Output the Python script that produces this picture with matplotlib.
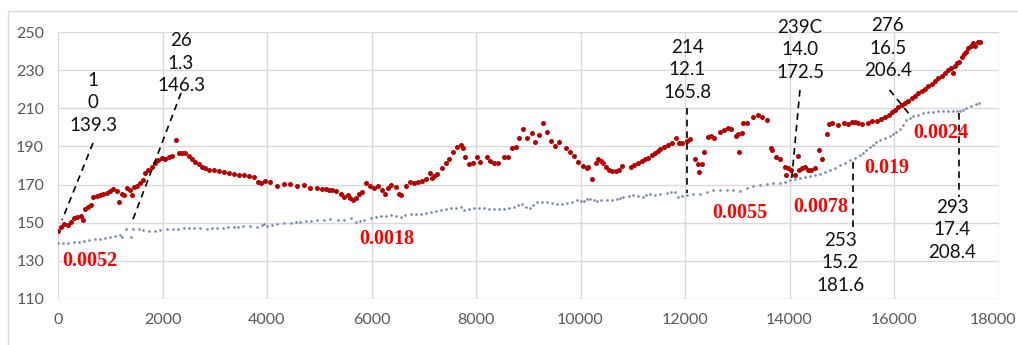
import matplotlib
matplotlib.use("Agg")
import matplotlib.pyplot as plt
import matplotlib.transforms as mtransforms
from matplotlib.patches import Rectangle

# red series (scattered points)
red_x = [0, 51, 115, 185, 249, 307, 371, 435, 473, 518, 581, 626, 677, 741, 805, 869, 933, 997,
         1061, 1125, 1176, 1220, 1265, 1316, 1380, 1412, 1457, 1508, 1572, 1623, 1668, 1732, 1796,
         1860, 1923, 1987, 2051, 2115, 2179, 2256, 2307, 2371, 2435, 2499, 2563, 2627, 2691, 2754,
         2818, 2882, 2978, 3074, 3169, 3265, 3361, 3457, 3553, 3649, 3744, 3821, 3885, 3968, 4064,
         4192, 4319, 4447, 4575, 4703, 4831, 4958, 5060, 5123, 5187, 5250, 5314, 5416, 5480, 5557,
         5588, 5652, 5697, 5761, 5812, 5888, 5971, 6054, 6118, 6194, 6258, 6309, 6373, 6463, 6526,
         6565, 6654, 6737, 6820, 6897, 6960, 7037, 7120, 7152, 7196, 7247, 7343, 7419, 7490, 7566,
         7636, 7707, 7758, 7789, 7866, 7949, 8013, 8083, 8204, 8274, 8351, 8415, 8530, 8619, 8683,
         8766, 8830, 8906, 8983, 9066, 9129, 9206, 9282, 9359, 9429, 9512, 9589, 9729, 9806, 9882,
         9959, 10041, 10118, 10150, 10226, 10290, 10341, 10392, 10437, 10488, 10545, 10609, 10673,
         10737, 10801, 10966, 11030, 11107, 11171, 11235, 11298, 11362, 11426, 11490, 11522, 11604,
         11681, 11745, 11828, 11885, 11949, 12032, 12096, 12191, 12255, 12274, 12319, 12364, 12434,
         12498, 12561, 12670, 12746, 12817, 12880, 12970, 13021, 13040, 13085, 13117, 13187, 13295,
         13403, 13480, 13563, 13640, 13659, 13742, 13818, 13914, 13927, 13978, 14029, 14105, 14156,
         14182, 14233, 14297, 14348, 14412, 14488, 14571, 14629, 14712, 14757, 14820, 14935, 15050,
         15114, 15203, 15254, 15318, 15395, 15497, 15586, 15669, 15752, 15829, 15906, 15955, 16019,
         16083, 16147, 16211, 16274, 16338, 16402, 16466, 16530, 16594, 16657, 16721, 16785, 16849,
         16913, 16977, 17040, 17085, 17136, 17168, 17212, 17251, 17295, 17340, 17378, 17423, 17468,
         17519, 17551, 17602, 17647]
red_y = [145.8, 147.9, 149.3, 148.6, 150.5, 152.3, 153.1, 153.5, 151.4, 157.0, 158.4, 159.2, 163.6,
         164.0, 164.5, 165.0, 165.7, 166.8, 167.6, 166.8, 161.0, 165.3, 164.5, 168.0, 167.2, 164.5,
         168.9, 169.2, 170.6, 172.4, 176.2, 177.6, 179.3, 181.1, 182.8, 183.7, 183.2, 184.2, 184.9,
         193.3, 186.7, 186.7, 186.7, 184.9, 183.2, 181.6, 180.6, 179.3, 178.5, 177.9, 177.6, 177.1,
         176.4, 175.9, 175.4, 175.0, 175.0, 174.7, 174.1, 171.5, 170.7, 171.9, 171.5, 169.2, 170.3,
         170.3, 169.4, 169.7, 168.3, 168.0, 167.9, 167.9, 167.4, 167.0, 166.7, 164.9, 163.5, 164.4,
         163.0, 162.1, 163.2, 165.3, 166.2, 170.9, 169.1, 168.4, 169.1, 167.0, 165.3, 168.4, 169.7,
         168.8, 164.9, 164.4, 169.3, 171.4, 171.0, 171.4, 172.1, 172.8, 175.9, 173.3, 174.5, 175.6,
         178.6, 181.2, 183.6, 187.0, 189.9, 191.0, 189.4, 184.2, 180.8, 181.2, 184.7, 181.9, 184.3,
         182.4, 181.5, 181.5, 184.2, 184.2, 189.1, 189.9, 194.5, 199.2, 194.3, 197.3, 192.2, 196.0,
         202.4, 197.5, 192.8, 190.3, 192.4, 189.1, 186.9, 184.9, 181.6, 179.9, 178.5, 179.3, 173.0,
         181.1, 183.4, 182.5, 181.1, 179.3, 177.9, 177.2, 176.9, 177.6, 180.0, 179.3, 180.2, 181.4,
         182.5, 183.2, 184.1, 185.3, 186.3, 187.7, 188.4, 189.8, 191.0, 191.9, 194.2, 191.6, 191.9,
         193.0, 194.0, 183.4, 180.7, 176.4, 180.7, 187.2, 195.1, 195.4, 194.5, 197.7, 198.6, 199.8,
         198.9, 195.4, 196.5, 187.2, 197.2, 202.1, 202.1, 205.2, 206.4, 205.6, 203.8, 189.0, 188.1,
         184.2, 183.5, 179.0, 175.0, 178.5, 177.9, 175.0, 184.9, 177.9, 178.5, 179.0, 177.6, 177.9,
         178.8, 188.1, 183.4, 196.5, 201.5, 202.1, 201.2, 202.4, 201.7, 202.9, 202.9, 202.4, 201.5,
         202.4, 203.1, 203.5, 204.2, 205.6, 206.6, 208.3, 209.1, 210.5, 211.7, 213.0, 214.0, 215.2,
         216.5, 217.9, 219.1, 220.3, 221.7, 222.8, 224.5, 225.7, 227.0, 228.4, 230.1, 231.3, 228.7,
         232.2, 233.6, 234.5, 237.1, 238.3, 239.7, 241.5, 242.9, 244.1, 242.7, 244.7, 244.7]

# blue series (small dots)
blue_x = [0, 100, 200, 300, 400, 500, 600, 700, 800, 900, 1000, 1100, 1189, 1230, 1300, 1400, 1444,
          1550, 1636, 1750, 1850, 1950, 2083, 2200, 2300, 2403, 2500, 2600, 2722, 2850, 2950, 3042,
          3150, 3250, 3361, 3450, 3550, 3681, 3809, 3900, 3936, 4000, 4100, 4200, 4319, 4450, 4550,
          4639, 4750, 4850, 4958, 5100, 5214, 5350, 5478, 5605, 5700, 5780, 5860, 5987, 6080, 6178,
          6280, 6369, 6470, 6560, 6650, 6751, 6850, 6942, 7040, 7132, 7230, 7323, 7420, 7514, 7610,
          7705, 7768, 7860, 7959, 8050, 8150, 8250, 8341, 8440, 8531, 8630, 8722, 8800, 8881, 8960,
          9040, 9100, 9167, 9260, 9358, 9450, 9549, 9640, 9740, 9840, 9931, 10000, 10058, 10120,
          10185, 10250, 10312, 10400, 10503, 10600, 10693, 10760, 10821, 10920, 11011, 11100, 11202,
          11260, 11329, 11424, 11520, 11647, 11740, 11809, 11873, 11950, 12032, 12150, 12287, 12420,
          12542, 12670, 12796, 12920, 13051, 13180, 13306, 13430, 13561, 13690, 13815, 13910, 14006,
          14100, 14197, 14290, 14388, 14480, 14580, 14680, 14771, 14870, 14962, 15060, 15153, 15250,
          15344, 15410, 15471, 15540, 15599, 15660, 15726, 15820, 15917, 15980, 16045, 16110, 16172,
          16236, 16300, 16363, 16460, 16554, 16650, 16745, 16840, 16936, 17030, 17127, 17200, 17255,
          17320, 17382, 17480, 17573, 17620]
blue_y = [139.2, 139.3, 139.5, 139.7, 140.0, 140.4, 140.8, 141.3, 141.7, 142.1, 142.6, 143.1, 143.5,
          142.5, 146.5, 142.7, 146.5, 146.6, 146.2, 145.8, 145.9, 146.2, 146.5, 146.7, 146.8, 147.0,
          147.1, 147.2, 147.0, 146.9, 147.0, 147.2, 147.4, 147.5, 147.6, 147.9, 148.2, 148.3, 147.9,
          148.8, 149.3, 148.4, 149.0, 149.4, 149.8, 150.1, 150.3, 150.5, 150.8, 151.1, 151.4, 151.5,
          151.7, 151.4, 151.4, 152.3, 150.2, 151.0, 151.5, 152.3, 152.9, 153.4, 153.7, 154.0, 153.6,
          153.2, 154.1, 154.8, 154.6, 154.6, 155.3, 155.8, 156.2, 156.6, 157.0, 157.5, 157.9, 158.4,
          156.8, 157.2, 157.5, 157.5, 157.5, 157.4, 157.4, 157.1, 157.0, 157.8, 158.4, 159.3, 160.0,
          158.5, 157.6, 159.5, 160.9, 161.0, 161.0, 160.4, 159.8, 159.9, 160.1, 161.0, 161.8, 161.5,
          161.4, 162.3, 162.6, 161.8, 161.5, 161.7, 161.9, 162.0, 162.2, 162.9, 163.5, 164.1, 164.5,
          164.0, 163.6, 164.5, 165.2, 164.5, 165.0, 165.7, 166.0, 166.1, 163.7, 164.0, 164.5, 164.9,
          165.3, 166.2, 167.0, 167.2, 167.4, 167.1, 166.8, 168.0, 169.1, 169.9, 170.5, 170.8, 170.9,
          171.6, 172.3, 173.0, 173.6, 174.0, 174.4, 174.9, 175.5, 176.5, 177.5, 178.9, 180.1, 181.5,
          182.8, 184.1, 185.3, 186.6, 188.0, 189.7, 191.0, 192.5, 193.5, 194.5, 195.4, 196.4, 197.6,
          199.4, 201.1, 203.6, 205.0, 205.8, 206.7, 207.3, 207.8, 208.2, 208.4, 208.5, 208.5, 208.5,
          208.5, 208.6, 209.2, 209.9, 211.0, 212.2, 212.8]

# callout labels: text, text position, dashed leader (x0, y0, x1, y1)
call_text = ["1\n0\n139.3", "26\n1.3\n146.3", "214\n12.1\n165.8", "239C\n14.0\n172.5",
             "276\n16.5\n206.4", "253\n15.2\n181.6", "293\n17.4\n208.4"]
call_pos = [(670, 212.8), (2354, 233.7), (12039, 230.1), (14202, 240.6),
            (15880, 241.6), (14967, 128.9), (17117, 146.2)]
call_lines = [(670, 191.8, 77, 151.4), (2354, 218.0, 1416, 150.4), (12038, 210.1, 12038, 165.6),
              (14200, 219.6, 14040, 172.4), (15915, 219.6, 16320, 206.0),
              (15210, 182.0, 15210, 147.9), (17250, 207.4, 17250, 163.6)]

# red slope values
rate_text = ["0.0052", "0.0018", "0.0055", "0.0078", "0.019", "0.0024"]
rate_pos = [(77, 130.0), (5761, 141.5), (12518, 155.1), (14068, 158.2), (15427, 178.7), (16365, 197.0)]

fig = plt.figure(figsize=(10.18, 3.45), dpi=100)
ax = fig.add_axes([58 / 1018, 1 - 299 / 345, 940.5 / 1018, 267 / 345])

# outer chart border
fig.patches.append(Rectangle((8 / 1018, -0.1), 1.1, 1.1 - 11 / 345, transform=fig.transFigure,
                             fill=False, edgecolor='#d9d9d9', linewidth=1))

ax.plot(blue_x, blue_y, 'o', color='#7587b3', markersize=1.9, markeredgewidth=0)
ax.plot(red_x, red_y, 'o', color='#b80000', markersize=3.6, markeredgewidth=0)

for x0, y0, x1, y1 in call_lines:
    ax.plot([x0, x1], [y0, y1], color='black', linewidth=1.2, linestyle=(0, (4, 3)))

for t, (x, y) in zip(call_text, call_pos):
    ax.text(x, y, t, ha='center', va='center', fontsize=13.5, family='Lato',
            color='#111111', linespacing=1.4, clip_on=False)

for t, (x, y) in zip(rate_text, rate_pos):
    ax.text(x, y, t, ha='left', va='center', fontsize=14.5, family='Liberation Serif',
            fontweight='bold', color='#ff0000')

ax.set_xlim(0, 18000)
ax.set_ylim(110, 250)
ax.set_xticks(range(0, 18001, 2000))
ax.set_yticks(range(110, 251, 20))
ax.grid(True, color='#d9d9d9', linewidth=1)
ax.set_axisbelow(True)
for s in ax.spines.values():
    s.set_visible(False)
ax.tick_params(length=0, labelsize=11.5, labelcolor='#595959', pad=10)
for lab in ax.get_xticklabels() + ax.get_yticklabels():
    lab.set_family('Lato')

# keep the last x label inside the figure
last = ax.get_xticklabels()[-1]
last.set_transform(last.get_transform() + mtransforms.ScaledTranslation(-6 / 100, 0, fig.dpi_scale_trans))

fig.savefig('out.png', dpi=100)
